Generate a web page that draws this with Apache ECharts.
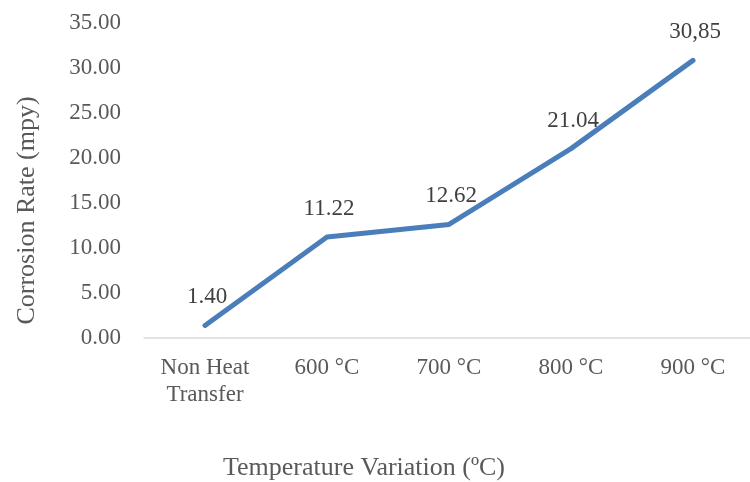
<!DOCTYPE html>
<html>
<head>
<meta charset="utf-8">
<script src="https://cdn.jsdelivr.net/npm/echarts@6/dist/echarts.min.js"></script>
<style>
  html, body { margin: 0; padding: 0; background: #fff; }
  #chart { width: 750px; height: 482px; }
</style>
</head>
<body>
<div id="chart"></div>
<script>
'use strict'

// data
var categories = ['Non Heat\nTransfer', '600 °C', '700 °C', '800 °C', '900 °C'];
var corrosionRate = [1.40, 11.22, 12.62, 21.04, 30.85];
var pointLabels = ['1.40', '11.22', '12.62', '21.04', '30,85'];   // last one printed with a comma in the original
var yTicks = { min: 0, max: 35, step: 5 };

var font = '"Liberation Serif", "Times New Roman", serif';
var textGray = '#595959';

var chart = echarts.init(document.getElementById('chart'));
chart.setOption({
    animation: false,
    grid: { left: 144, right: -4, top: 23, bottom: 144, outerBoundsMode: 'none' },
    xAxis: {
        type: 'category',
        data: categories,
        boundaryGap: true,
        axisLine: { lineStyle: { color: '#d9d9d9', width: 1.5 } },
        axisTick: { show: false },
        axisLabel: { color: textGray, fontFamily: font, fontSize: 23, lineHeight: 27, margin: 16 },
        name: 'Temperature Variation (ºC)',
        nameLocation: 'middle',
        nameGap: 117,
        nameTextStyle: { color: textGray, fontFamily: font, fontSize: 26, padding: [0, 170, 0, 0] }
    },
    yAxis: {
        type: 'value',
        min: yTicks.min,
        max: yTicks.max,
        interval: yTicks.step,
        splitLine: { show: false },
        axisLine: { show: false },
        axisTick: { show: false },
        axisLabel: {
            color: textGray, fontFamily: font, fontSize: 23, margin: 23,
            formatter: function (v) { return v.toFixed(2); }
        },
        name: 'Corrosion Rate (mpy)',
        nameLocation: 'middle',
        nameGap: 104,
        nameTextStyle: { color: textGray, fontFamily: font, fontSize: 26, padding: [0, 60, 0, 0] }
    },
    series: [{
        type: 'line',
        data: corrosionRate,
        symbol: 'circle',
        symbolSize: 1,
        showSymbol: true,
        itemStyle: { color: '#4a7ebb' },
        lineStyle: { color: '#4a7ebb', width: 5, cap: 'round', join: 'round' },
        label: {
            show: true,
            position: 'top',
            distance: 16,
            offset: [2, 0],
            color: '#404040',
            fontFamily: font,
            fontSize: 23,
            formatter: function (p) { return pointLabels[p.dataIndex]; }
        }
    }]
});
</script>
</body>
</html>
